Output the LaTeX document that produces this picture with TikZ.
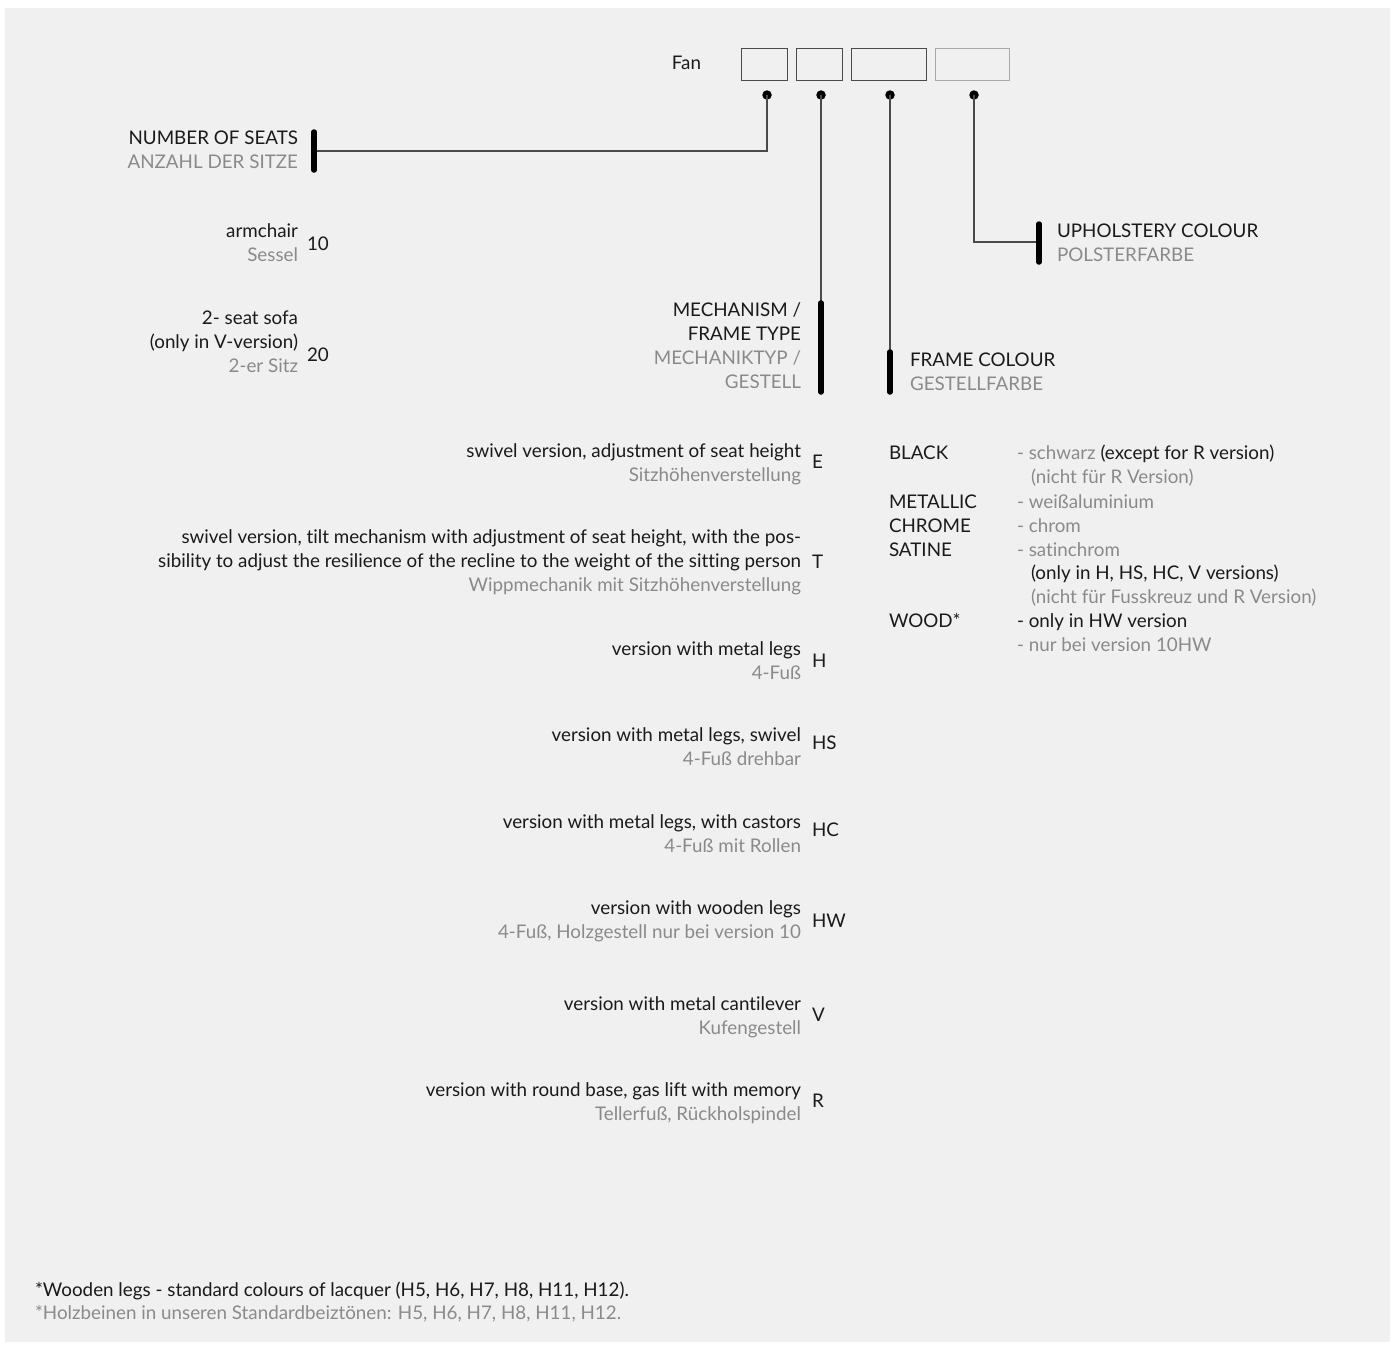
\documentclass[tikz,border=0pt]{standalone}
\usepackage{fontspec}
\setmainfont{Lato}[Ligatures=NoCommon]
\definecolor{bg}{HTML}{F0F0F0}
\definecolor{txt}{HTML}{1A1A1A}
\definecolor{sub}{HTML}{8A8A8A}
\definecolor{ln}{HTML}{4A4A4A}
\definecolor{lnlight}{HTML}{A8A8A8}
\begin{document}
\begin{tikzpicture}[x=1pt,y=-1pt,
 every node/.style={inner sep=0pt, outer sep=0pt, font=\fontsize{18.8}{24}\selectfont},
 en/.style={text=txt},
 de/.style={text=sub},
 R/.style={anchor=base east},
 L/.style={anchor=base west},
 codebox/.style={draw=ln, line width=1pt, minimum height=32pt, anchor=north west},
 pin/.style={circle, fill=black, minimum size=9.5pt},
 lead/.style={draw=ln, line width=1.2pt},
 bar/.style={line width=5.5pt, line cap=round, draw=black}]

\fill[white] (0,0) rectangle (1395,1349);
\fill[bg] (5,8) rectangle (1390,1342);
\useasboundingbox (0,0) rectangle (1395,1349);

% header
\node[en,R] (fan) at (701,69) {Fan};
\node[codebox, minimum width=46pt] (b1) at (741,48) {};
\node[codebox, minimum width=46pt] (b2) at (796,48) {};
\node[codebox, minimum width=75pt] (b3) at (851,48) {};
\node[codebox, minimum width=74pt, draw=lnlight] (b4) at (935,48) {};

\node[pin] (d1) at (767,95) {};
\node[pin] (d2) at (821,95) {};
\node[pin] (d3) at (890,95) {};
\node[pin] (d4) at (974,95) {};

% bars
\coordinate (s1t) at (314,132); \coordinate (s1b) at (314,170); \coordinate (s1m) at (314,151);
\coordinate (m1t) at (821,303); \coordinate (m1b) at (821,392);
\coordinate (f1t) at (890,352); \coordinate (f1b) at (890,392);
\coordinate (u1t) at (1039,224); \coordinate (u1b) at (1039,262); \coordinate (u1m) at (1039,242);

\draw[lead] (d1.center) |- (s1m);
\draw[lead] (d2.center) -- (m1t);
\draw[lead] (d3.center) -- (f1t);
\draw[lead] (d4.center) |- (u1m);

\draw[bar] (s1t) -- (s1b);
\draw[bar] (m1t) -- (m1b);
\draw[bar] (f1t) -- (f1b);
\draw[bar] (u1t) -- (u1b);

% number of seats
\node[en,R] (ns1) at (298,144) {NUMBER OF SEATS};
\node[de,R] (ns2) at (298,168) {ANZAHL DER SITZE};
\node[en,R] (a1) at (298,237) {armchair};
\node[de,R] (a2) at (298,261) {Sessel};
\node[en,L] (c10) at (307,250) {10};
\node[en,R] (so1) at (298,324) {2- seat sofa};
\node[en,R] (so2) at (298,348) {(only in V-version)};
\node[de,R] (so3) at (298,372) {2-er Sitz};
\node[en,L] (c20) at (307,361) {20};

% mechanism
\node[en,R] (mh1) at (801,316) {MECHANISM /};
\node[en,R] (mh2) at (801,340) {FRAME TYPE};
\node[de,R] (mh3) at (801,364) {MECHANIKTYP /};
\node[de,R] (mh4) at (801,388) {GESTELL};

% frame colour
\node[en,L] (fc1) at (910,366) {FRAME COLOUR};
\node[de,L] (fc2) at (910,390) {GESTELLFARBE};

% upholstery
\node[en,L] (uc1) at (1057,237) {UPHOLSTERY COLOUR};
\node[de,L] (uc2) at (1057,261) {POLSTERFARBE};

% mechanism items
\node[en,R] (e1) at (801,457) {swivel version, adjustment of seat height};
\node[de,R] (e2) at (801,481) {Sitzhöhenverstellung};
\node[en,L] (cE) at (812,468) {E};

\node[en,R] (t1) at (801,543) {swivel version, tilt mechanism with adjustment of seat height, with the pos-};
\node[en,R] (t2) at (801,567) {sibility to adjust the resilience of the recline to the weight of the sitting person};
\node[de,R] (t3) at (801,591) {Wippmechanik mit Sitzhöhenverstellung};
\node[en,L] (cT) at (812,568) {T};

\node[en,R] (h1) at (801,655) {version with metal legs};
\node[de,R] (h2) at (801,679) {4-Fuß};
\node[en,L] (cH) at (812,667) {H};

\node[en,R] (hs1) at (801,741) {version with metal legs, swivel};
\node[de,R] (hs2) at (801,765) {4-Fuß drehbar};
\node[en,L] (cHS) at (812,749) {HS};

\node[en,R] (hc1) at (801,828) {version with metal legs, with castors};
\node[de,R] (hc2) at (801,852) {4-Fuß mit Rollen};
\node[en,L] (cHC) at (812,836) {HC};

\node[en,R] (hw1) at (801,914) {version with wooden legs};
\node[de,R] (hw2) at (801,938) {4-Fuß, Holzgestell nur bei version 10};
\node[en,L] (cHW) at (812,927) {HW};

\node[en,R] (v1) at (801,1010) {version with metal cantilever};
\node[de,R] (v2) at (801,1034) {Kufengestell};
\node[en,L] (cV) at (812,1021) {V};

\node[en,R] (r1) at (801,1096) {version with round base, gas lift with memory};
\node[de,R] (r2) at (801,1120) {Tellerfuß, Rückholspindel};
\node[en,L] (cR) at (812,1107) {R};

% colour list
\node[en,L] (k1) at (889,459) {BLACK};
\node[en,L] (k2) at (889,508) {METALLIC};
\node[en,L] (k3) at (889,532) {CHROME};
\node[en,L] (k4) at (889,556) {SATINE};
\node[en,L] (k5) at (889,627) {WOOD*};

\node[en,L] (kd1) at (1017,459) {{\color{sub}- schwarz} (except for R version)};
\node[de,L] (kd1b) at (1031,483) {(nicht für R Version)};
\node[de,L] (kd2) at (1017,508) {- weißaluminium};
\node[de,L] (kd3) at (1017,532) {- chrom};
\node[de,L] (kd4) at (1017,556) {- satinchrom};
\node[en,L] (kd4b) at (1031,579) {(only in H, HS, HC, V versions)};
\node[de,L] (kd4c) at (1031,603) {(nicht für Fusskreuz und R Version)};
\node[en,L] (kd5) at (1017,627) {- only in HW version};
\node[de,L] (kd5b) at (1017,651) {- nur bei version 10HW};

% footnote
\node[en,L] (fn1) at (35,1296) {*Wooden legs - standard colours of lacquer (H5, H6, H7, H8, H11, H12).};
\node[de,L] (fn2) at (35,1319) {*Holzbeinen in unseren Standardbeiztönen: H5, H6, H7, H8, H11, H12.};
\end{tikzpicture}
\end{document}
